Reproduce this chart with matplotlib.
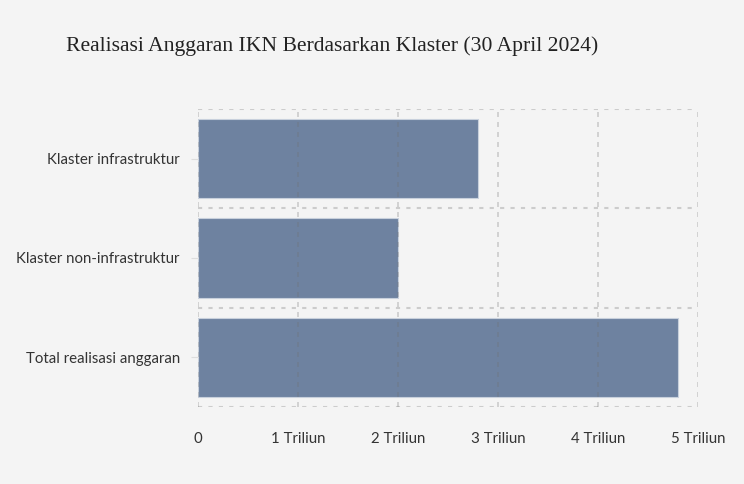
import matplotlib.pyplot as plt

# data (dalam triliun rupiah)
kategori = ['Klaster infrastruktur', 'Klaster non-infrastruktur', 'Total realisasi anggaran']
nilai = [2.8, 2.0, 4.8]
xticks = [0, 1, 2, 3, 4, 5]
xlabels = ['0', '1 Triliun', '2 Triliun', '3 Triliun', '4 Triliun', '5 Triliun']

bg = '#f4f4f4'
fig = plt.figure(figsize=(7.44, 4.84), dpi=100, facecolor=bg)
ax = fig.add_axes([0.266, 0.159, 0.672, 0.616], facecolor=bg)

ypos = list(range(len(kategori)))
ax.barh(ypos, nilai, height=0.8, color='#6e82a0', edgecolor='#c8d0dc', linewidth=0.8, zorder=1)

ax.set_xlim(0, 5)
ax.set_ylim(len(kategori) - 0.5, -0.5)
ax.set_xticks(xticks)
ax.set_xticklabels(xlabels)
ax.set_yticks(ypos)
ax.set_yticklabels(kategori)
ax.set_yticks([-0.5, 0.5, 1.5, 2.5], minor=True)

ax.grid(axis='x', which='major', color='#707070', alpha=0.3, linestyle=(0, (3, 3)), linewidth=1.2, zorder=2)
ax.grid(axis='y', which='minor', color='#707070', alpha=0.3, linestyle=(0, (2, 3)), linewidth=1.5, zorder=2)
ax.set_axisbelow(False)
for s in ax.spines.values():
    s.set_visible(False)

ax.tick_params(axis='x', length=0, pad=18, colors='#333333')
ax.tick_params(axis='y', which='major', length=5, color='#dddddd', pad=8, labelcolor='#333333')
ax.tick_params(axis='y', which='minor', length=0)
for lbl in ax.get_xticklabels() + ax.get_yticklabels():
    lbl.set_family(['Lato', 'DejaVu Sans'])
    lbl.set_fontsize(10.8)

fig.text(0.089, 0.905, 'Realisasi Anggaran IKN Berdasarkan Klaster (30 April 2024)',
         family=['Liberation Serif', 'DejaVu Serif'], fontsize=15.6, color='#222222', va='center')

fig.savefig('out.png', dpi=100, facecolor=bg)
